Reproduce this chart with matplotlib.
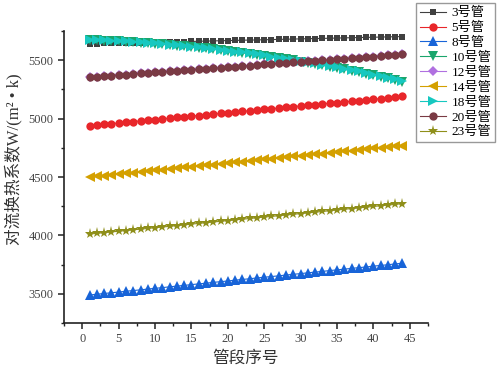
import matplotlib.pyplot as plt
from matplotlib.ticker import MultipleLocator

plt.rcParams['font.family'] = ['Liberation Serif', 'Noto Sans CJK SC', 'DejaVu Sans']
plt.rcParams['axes.unicode_minus'] = False

# convective heat transfer coefficient along each tube, segments 1..44
pipe3 = [5641, 5642, 5644, 5645, 5647, 5648, 5650, 5651, 5653, 5654, 5656,
         5657, 5659, 5660, 5661, 5663, 5664, 5666, 5667, 5669, 5670, 5672,
         5673, 5674, 5676, 5677, 5679, 5680, 5682, 5683, 5685, 5686, 5687,
         5689, 5690, 5692, 5693, 5695, 5696, 5697, 5699, 5700, 5702, 5703]
pipe5 = [4940, 4946, 4952, 4957, 4963, 4969, 4975, 4981, 4987, 4992, 4998,
         5004, 5010, 5016, 5022, 5027, 5033, 5039, 5045, 5051, 5056, 5062,
         5068, 5074, 5080, 5085, 5091, 5097, 5103, 5109, 5114, 5120, 5126,
         5132, 5137, 5143, 5149, 5155, 5160, 5166, 5172, 5178, 5184, 5190]
pipe8 = [3490, 3496, 3503, 3509, 3515, 3522, 3528, 3534, 3541, 3547, 3553,
         3560, 3566, 3572, 3579, 3585, 3591, 3598, 3604, 3610, 3617, 3623,
         3629, 3636, 3642, 3648, 3654, 3661, 3667, 3673, 3680, 3686, 3692,
         3699, 3705, 3711, 3718, 3724, 3730, 3737, 3743, 3749, 3756, 3762]
pipe10 = [5675, 5672, 5669, 5666, 5662, 5659, 5655, 5651, 5646, 5642, 5637,
          5632, 5626, 5620, 5614, 5608, 5601, 5594, 5587, 5579, 5572, 5564,
          5555, 5546, 5537, 5528, 5519, 5509, 5499, 5489, 5479, 5468, 5457,
          5445, 5434, 5422, 5410, 5397, 5385, 5372, 5358, 5345, 5331, 5318]
pipe20 = [5355, 5360, 5364, 5369, 5373, 5378, 5382, 5387, 5391, 5396, 5400,
          5405, 5409, 5414, 5418, 5423, 5427, 5432, 5436, 5441, 5445, 5450,
          5454, 5459, 5464, 5468, 5473, 5477, 5482, 5486, 5491, 5495, 5500,
          5504, 5509, 5513, 5518, 5523, 5527, 5532, 5536, 5541, 5545, 5550]
pipe12 = list(pipe20)
pipe14 = [4500, 4506, 4513, 4519, 4525, 4531, 4538, 4544, 4550, 4557, 4563,
          4569, 4575, 4582, 4588, 4594, 4601, 4607, 4613, 4619, 4626, 4632,
          4638, 4645, 4651, 4657, 4663, 4670, 4676, 4682, 4689, 4695, 4701,
          4707, 4714, 4720, 4726, 4733, 4739, 4745, 4751, 4758, 4764, 4770]
pipe18 = [5676, 5674, 5671, 5668, 5664, 5661, 5657, 5653, 5648, 5644, 5639,
          5634, 5628, 5622, 5616, 5610, 5604, 5597, 5590, 5582, 5575, 5567,
          5559, 5550, 5541, 5532, 5523, 5514, 5504, 5494, 5484, 5473, 5462,
          5451, 5440, 5428, 5416, 5404, 5391, 5378, 5365, 5352, 5339, 5325]
pipe23 = [4012, 4018, 4024, 4030, 4036, 4042, 4048, 4054, 4060, 4066, 4072,
          4078, 4084, 4090, 4097, 4103, 4109, 4115, 4121, 4127, 4133, 4139,
          4145, 4151, 4157, 4163, 4169, 4175, 4181, 4187, 4193, 4199, 4205,
          4212, 4218, 4224, 4230, 4236, 4242, 4248, 4254, 4260, 4266, 4272]

series = [
    ('3号管', pipe3, 's', '#404040', 5.0),
    ('5号管', pipe5, 'o', '#e8262a', 6.0),
    ('8号管', pipe8, '^', '#1864d8', 6.5),
    ('10号管', pipe10, 'v', '#1aa56c', 6.5),
    ('12号管', pipe12, 'D', '#b070e0', 5.0),
    ('14号管', pipe14, '<', '#d4a000', 6.5),
    ('18号管', pipe18, '>', '#17c8c0', 6.5),
    ('20号管', pipe20, 'o', '#7a3a44', 6.0),
    ('23号管', pipe23, '*', '#8f8f1a', 8.0),
]

fig = plt.figure(figsize=(4.97, 3.70), dpi=100)
ax = fig.add_axes([0.129, 0.127, 0.732, 0.789])

for name, vals, mk, col, ms in series:
    seg = list(range(1, len(vals) + 1))
    ax.plot(seg, vals, marker=mk, color=col, markersize=ms, linewidth=0.8,
            markeredgewidth=0, label=name)

ax.set_xlim(-2.5, 47.5)
ax.set_ylim(3250, 5750)
ax.xaxis.set_major_locator(MultipleLocator(5))
ax.xaxis.set_minor_locator(MultipleLocator(2.5))
ax.yaxis.set_major_locator(MultipleLocator(500))
ax.yaxis.set_minor_locator(MultipleLocator(250))
ax.tick_params(which='major', direction='out', length=4, width=1.1, labelsize=9,
               color='#222222', labelcolor='#444444')
ax.tick_params(which='minor', direction='out', length=2.5, width=1.0, color='#222222')
ax.spines['top'].set_visible(False)
ax.spines['right'].set_visible(False)
for s in ('left', 'bottom'):
    ax.spines[s].set_linewidth(1.2)
    ax.spines[s].set_color('#222222')

ax.set_xlabel('管段序号', fontsize=12, color='#333333', labelpad=4)
ax.set_ylabel('对流换热系数W/(m² • k)', fontsize=12, color='#333333')
ax.yaxis.set_label_coords(-0.115, 0.56)

fig.legend(loc='upper right', bbox_to_anchor=(0.999, 0.995), fontsize=9.5,
           frameon=True, fancybox=False, edgecolor='#999999', framealpha=1,
           handlelength=2.0, labelspacing=0.2, borderpad=0.3, handletextpad=0.4,
           borderaxespad=0.1)

fig.savefig('out.png', dpi=100)
